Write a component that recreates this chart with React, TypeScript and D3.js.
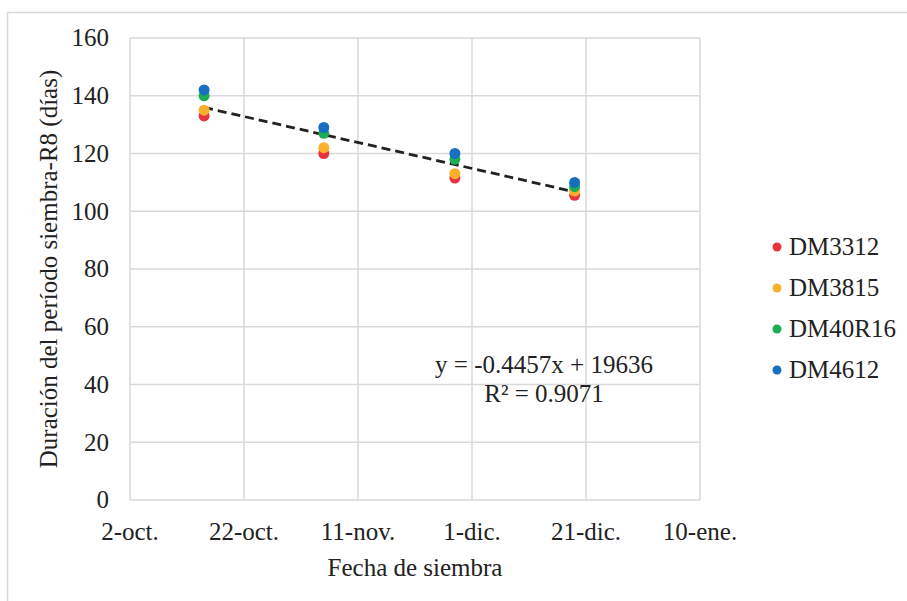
import React, { useRef, useEffect } from 'react'
import * as d3 from 'd3'

// fechas de siembra (días) y duración siembra-R8 por cultivar
const sowingDates = ['2019-10-15', '2019-11-05', '2019-11-28', '2019-12-19']
const seriesNames = ['DM3312', 'DM3815', 'DM40R16', 'DM4612']
const seriesColors = ['#E8343F', '#FBAF2A', '#1DAE54', '#176FC1']
const dm3312 = [133, 120, 111.5, 105.5]
const dm3815 = [135, 122, 113, 107]
const dm40r16 = [140, 127, 118, 108.5]
const dm4612 = [142, 129, 120, 110]
const xTickLabels = ['2-oct.', '22-oct.', '11-nov.', '1-dic.', '21-dic.', '10-ene.']
const yTicks = [0, 20, 40, 60, 80, 100, 120, 140, 160]
const equationLines = ['y = -0.4457x + 19636', 'R² = 0.9071']

const App = () => {
	const svgRef = useRef(null)

	useEffect(() => {
		const root = d3.select(svgRef.current)
		root.selectAll('*').remove()

		const W = 907,
			H = 601
		const margin = { top: 38, left: 130 },
			width = 570,
			height = 462
		const font = '"Liberation Serif"'
		const fs = '25px'
		const grid = '#D9D9D9'

		root.attr('width', W).attr('height', H)

		// marco exterior
		root.append('rect')
			.attr('x', 7.5)
			.attr('y', 12.5)
			.attr('width', 1000)
			.attr('height', 1000)
			.attr('fill', 'white')
			.attr('stroke', grid)
			.attr('stroke-width', 1.5)

		const svg = root.append('g').attr('transform', `translate(${margin.left},${margin.top})`)

		const parse = d3.timeParse('%Y-%m-%d')
		const start = parse('2019-10-02')
		const xTicks = xTickLabels.map((_, i) => d3.timeDay.offset(start, i * 20))
		const x = d3.scaleTime().domain([xTicks[0], xTicks[xTicks.length - 1]]).range([0, width])
		const y = d3.scaleLinear().domain([0, 160]).range([height, 0])

		// rejilla
		svg.append('g')
			.selectAll('line')
			.data(yTicks)
			.join('line')
			.attr('x1', 0)
			.attr('x2', width)
			.attr('y1', (d) => y(d))
			.attr('y2', (d) => y(d))
			.attr('stroke', grid)
			.attr('stroke-width', 1.5)
		svg.append('g')
			.selectAll('line')
			.data(xTicks)
			.join('line')
			.attr('x1', (d) => x(d))
			.attr('x2', (d) => x(d))
			.attr('y1', 0)
			.attr('y2', height)
			.attr('stroke', grid)
			.attr('stroke-width', 1.5)

		// etiquetas de ejes
		svg.append('g')
			.selectAll('text')
			.data(yTicks)
			.join('text')
			.attr('x', -21)
			.attr('y', (d) => y(d))
			.attr('dy', '0.33em')
			.attr('text-anchor', 'end')
			.style('font-family', font)
			.style('font-size', fs)
			.attr('fill', '#222')
			.text((d) => d)

		svg.append('g')
			.selectAll('text')
			.data(xTicks)
			.join('text')
			.attr('x', (d) => x(d))
			.attr('y', height + 40)
			.attr('text-anchor', 'middle')
			.style('font-family', font)
			.style('font-size', fs)
			.attr('fill', '#222')
			.text((d, i) => xTickLabels[i])

		svg.append('text')
			.attr('x', 285)
			.attr('y', height + 76)
			.attr('text-anchor', 'middle')
			.style('font-family', font)
			.style('font-size', fs)
			.attr('fill', '#222')
			.text('Fecha de siembra')

		svg.append('text')
			.attr('transform', `translate(-73,${height / 2}) rotate(-90)`)
			.attr('text-anchor', 'middle')
			.style('font-family', font)
			.style('font-size', fs)
			.attr('fill', '#222')
			.text('Duración del período siembra-R8 (días)')

		// línea de tendencia (mínimos cuadrados sobre todos los puntos)
		const allSeries = [dm3312, dm3815, dm40r16, dm4612]
		const dates = sowingDates.map(parse)
		const pts = []
		allSeries.forEach((s) => s.forEach((v, i) => pts.push([+dates[i], v])))
		const mx = d3.mean(pts, (p) => p[0])
		const my = d3.mean(pts, (p) => p[1])
		const slope =
			d3.sum(pts, (p) => (p[0] - mx) * (p[1] - my)) / d3.sum(pts, (p) => (p[0] - mx) ** 2)
		const fit = (t) => my + slope * (t - mx)
		const ends = d3.extent(dates)
		svg.append('path')
			.datum(ends)
			.attr('d', d3.line().x((d) => x(d)).y((d) => y(fit(+d))))
			.attr('stroke', '#222')
			.attr('stroke-width', 2.8)
			.attr('stroke-dasharray', '9,5')
			.attr('fill', 'none')

		// puntos
		allSeries.forEach((s, k) => {
			svg.append('g')
				.selectAll('circle')
				.data(s)
				.join('circle')
				.attr('cx', (d, i) => x(dates[i]))
				.attr('cy', (d) => y(d))
				.attr('r', 5.5)
				.attr('fill', seriesColors[k])
		})

		// ecuación
		svg.append('g')
			.selectAll('text')
			.data(equationLines)
			.join('text')
			.attr('x', 414)
			.attr('y', (d, i) => 335 + i * 29)
			.attr('text-anchor', 'middle')
			.style('font-family', font)
			.style('font-size', fs)
			.attr('fill', '#222')
			.text((d) => d)

		// leyenda
		const legend = root.append('g').attr('transform', 'translate(777,247)')
		const item = legend
			.selectAll('g')
			.data(seriesNames)
			.join('g')
			.attr('transform', (d, i) => `translate(0,${i * 41})`)
		item.append('circle').attr('r', 4.5).attr('fill', (d, i) => seriesColors[i])
		item.append('text')
			.attr('x', 12)
			.attr('dy', '0.33em')
			.style('font-family', font)
			.style('font-size', fs)
			.attr('fill', '#222')
			.text((d) => d)
	}, [])

	return <svg ref={svgRef} style={{ position: 'absolute', left: 0, top: 0 }}></svg>
}

export default App
